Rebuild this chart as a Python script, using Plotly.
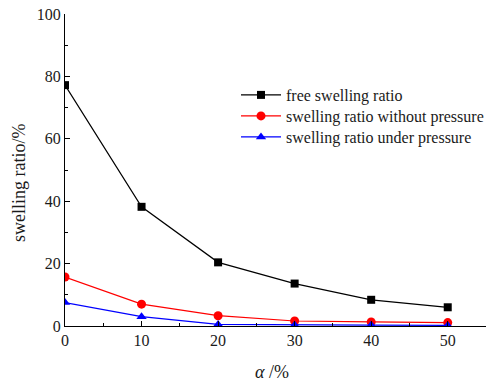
import plotly.graph_objects as go

alpha = [0, 10, 20, 30, 40, 50]
free_swelling = [77.2, 38.2, 20.4, 13.6, 8.4, 6.0]
swelling_no_pressure = [15.7, 7.0, 3.3, 1.6, 1.3, 1.1]
swelling_pressure = [7.5, 3.0, 0.5, 0.3, 0.3, 0.2]
x_ticks = [0, 10, 20, 30, 40, 50]
y_ticks = [0, 20, 40, 60, 80, 100]

FONT = "Liberation Serif, Times New Roman, serif"
TXT = "#1a1a1a"

fig = go.Figure()
fig.add_trace(go.Scatter(x=alpha, y=free_swelling, mode="lines+markers",
                         name="free swelling ratio", legend="legend",
                         line=dict(color="black", width=1.2),
                         marker=dict(symbol="square", size=8, color="black")))
fig.add_trace(go.Scatter(x=alpha, y=swelling_no_pressure, mode="lines+markers",
                         name="swelling ratio without pressure", legend="legend2",
                         line=dict(color="red", width=1.2),
                         marker=dict(symbol="circle", size=9, color="red")))
fig.add_trace(go.Scatter(x=alpha, y=swelling_pressure, mode="lines+markers",
                         name="swelling ratio under pressure", legend="legend3",
                         line=dict(color="blue", width=1.2),
                         marker=dict(symbol="triangle-up", size=9, color="blue")))

W, H = 487, 383
L, R, T, B = 65, 1, 14, 57
PW, PH = W - L - R, H - T - B


def px_x(p):
    return (p - L) / PW


def px_y(p):
    return (H - B - p) / PH


def leg(row_y):
    return dict(x=px_x(236), y=px_y(row_y), xanchor="left", yanchor="middle",
                bgcolor="rgba(0,0,0,0)", borderwidth=0,
                font=dict(family=FONT, size=16, color=TXT), itemwidth=40)


fig.update_layout(
    width=W, height=H,
    margin=dict(l=L, r=R, t=T, b=B, autoexpand=False),
    paper_bgcolor="white", plot_bgcolor="white",
    font=dict(family=FONT, size=16, color=TXT),
    showlegend=True,
    legend=leg(95), legend2=leg(116), legend3=leg(137),
    xaxis=dict(range=[0, 55], tickvals=x_ticks, showline=True, linecolor="black",
               linewidth=1.3, ticks="inside", ticklen=5, tickcolor="black",
               tickfont=dict(family=FONT, size=16, color=TXT),
               showgrid=False, zeroline=False, automargin=False,
               minor=dict(dtick=5, tick0=5, ticks="inside", ticklen=3, tickcolor="black")),
    yaxis=dict(range=[0, 100], tickvals=y_ticks, showline=True, linecolor="black",
               linewidth=1.3, ticks="inside", ticklen=5, tickcolor="black",
               tickfont=dict(family=FONT, size=16, color=TXT),
               showgrid=False, zeroline=False, automargin=False,
               minor=dict(dtick=10, tick0=10, ticks="inside", ticklen=3, tickcolor="black")),
    annotations=[
        dict(text="<i>α</i> /%", xref="paper", yref="paper", x=px_x(272),
             y=px_y(372), xanchor="center", yanchor="middle", showarrow=False,
             font=dict(family=FONT, size=18, color=TXT)),
        dict(text="swelling ratio/%", xref="paper", yref="paper", x=px_x(19),
             y=px_y(183), xanchor="center", yanchor="middle", showarrow=False,
             textangle=-90, font=dict(family=FONT, size=18, color=TXT)),
    ],
)

fig.write_html("out.html", config={"displayModeBar": False},
               post_script="document.body.style.margin='0';document.body.style.overflow='hidden';")
